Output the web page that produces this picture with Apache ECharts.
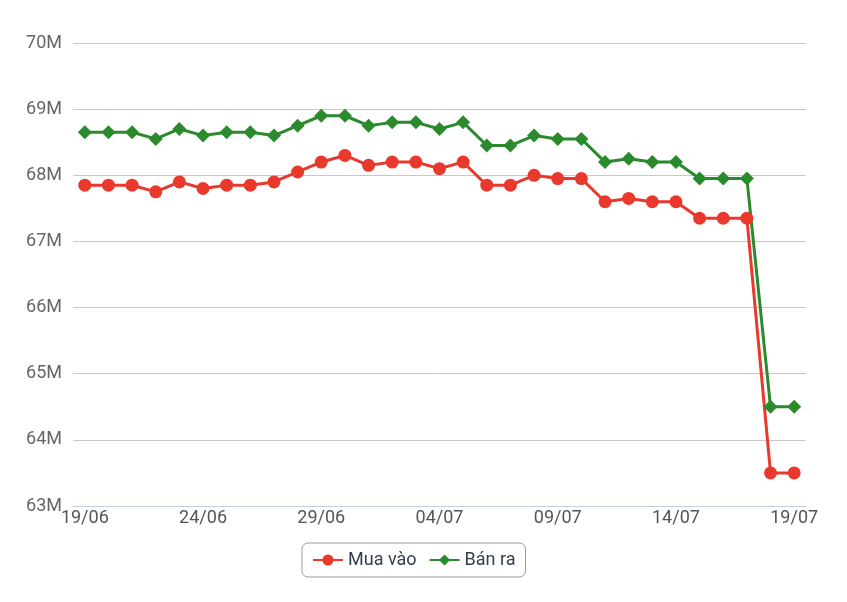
<!DOCTYPE html>
<html>
<head>
<meta charset="utf-8">
<script src="https://cdn.jsdelivr.net/npm/echarts@6/dist/echarts.min.js"></script>
<style>html,body{margin:0;padding:0;background:#fff}#c{width:847px;height:602px}</style>
</head>
<body>
<div id="c"></div>
<script>
const categories = ["19/06","20/06","21/06","22/06","23/06","24/06","25/06","26/06","27/06","28/06","29/06","30/06","01/07","02/07","03/07","04/07","05/07","06/07","07/07","08/07","09/07","10/07","11/07","12/07","13/07","14/07","15/07","16/07","17/07","18/07","19/07"];
const muaVao = [67.85,67.85,67.85,67.75,67.9,67.8,67.85,67.85,67.9,68.05,68.2,68.3,68.15,68.2,68.2,68.1,68.2,67.85,67.85,68.0,67.95,67.95,67.6,67.65,67.6,67.6,67.35,67.35,67.35,63.5,63.5];
const banRa = [68.65,68.65,68.65,68.55,68.7,68.6,68.65,68.65,68.6,68.75,68.9,68.9,68.75,68.8,68.8,68.7,68.8,68.45,68.45,68.6,68.55,68.55,68.2,68.25,68.2,68.2,67.95,67.95,67.95,64.5,64.5];
const seriesNames = ["Mua vào","Bán ra"];

const chart = echarts.init(document.getElementById('c'));
chart.setOption({
  animation:false,
  textStyle:{fontFamily:'Roboto'},
  grid:{left:73,right:41,top:43,bottom:96},
  legend:{
    top:543, left:302,
    data:seriesNames,
    borderColor:'#999', borderWidth:1, borderRadius:6,
    padding:[8,10],
    itemWidth:30, itemHeight:14, itemGap:12,
    textStyle:{fontSize:18,color:'#333d4f',fontFamily:'Roboto'}
  },
  xAxis:{
    type:'category', data:categories, boundaryGap:true,
    axisLine:{lineStyle:{color:'#c5cfdf'}},
    axisTick:{interval:0,lineStyle:{color:'#c5cfdf'},length:8},
    axisLabel:{interval:4,fontSize:18,color:'#555',margin:3}
  },
  yAxis:{
    type:'value', min:63, max:70, interval:1,
    axisLabel:{formatter:'{value}M',fontSize:18,color:'#666',margin:11},
    axisLine:{show:false}, axisTick:{show:false},
    splitLine:{lineStyle:{color:'#c8c8c8'}}
  },
  series:[
    {name:seriesNames[0],type:'line',data:muaVao,symbol:'circle',symbolSize:13,
     itemStyle:{color:'#e8392c'},lineStyle:{width:3,color:'#e8392c'}},
    {name:seriesNames[1],type:'line',data:banRa,symbol:'diamond',symbolSize:14,
     itemStyle:{color:'#2b8a2b'},lineStyle:{width:3,color:'#2b8a2b'}}
  ]
});
</script>
</body>
</html>
